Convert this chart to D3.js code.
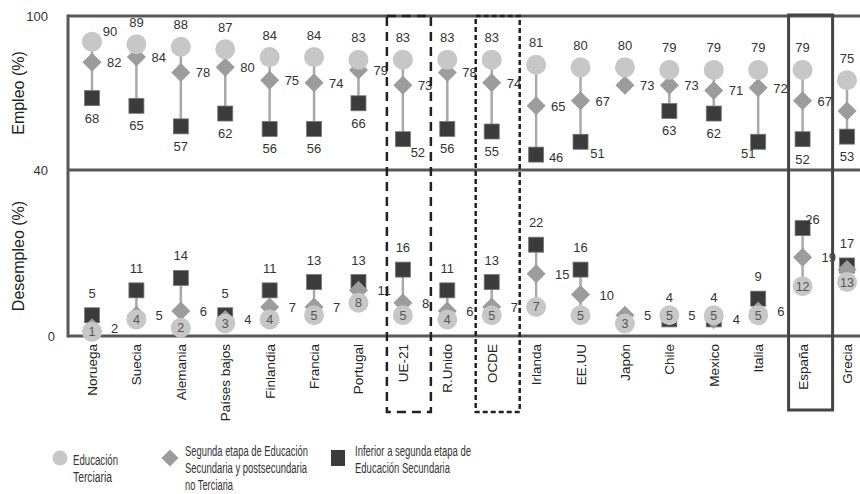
<!DOCTYPE html>
<html>
<head>
<meta charset="utf-8">
<script src="https://cdn.jsdelivr.net/npm/d3@7/dist/d3.min.js"></script>
<style>
  html, body { margin: 0; padding: 0; background: #fff; }
  svg { display: block; font-family: "Liberation Sans", Arial, sans-serif; }
</style>
</head>
<body>
<svg id="chart" width="860" height="494"></svg>
<script>
// ---------- DATA ----------
const categories = ["Noruega","Suecia","Alemania","Países bajos","Finlandia","Francia","Portugal","UE-21","R.Unido","OCDE","Irlanda","EE.UU","Japón","Chile","Mexico","Italia","España","Grecia"];

// Empleo (%)
const empTerciaria   = [90, 89, 88, 87, 84, 84, 83, 83, 83, 83, 81, 80, 80, 79, 79, 79, 79, 75];
const empSecundaria  = [82, 84, 78, 80, 75, 74, 79, 73, 78, 74, 65, 67, 73, 73, 71, 72, 67, 63];
const empInferior    = [68, 65, 57, 62, 56, 56, 66, 52, 56, 55, 46, 51, null, 63, 62, 51, 52, 53];

// Desempleo (%)
const desTerciaria   = [1, 4, 2, 3, 4, 5, 8, 5, 4, 5, 7, 5, 3, 5, 5, 5, 12, 13];
const desSecundaria  = [2, 5, 6, 4, 7, 7, 11, 8, 6, 7, 15, 10, 5, 5, 4, 6, 19, 16];
const desInferior    = [5, 11, 14, 5, 11, 13, 13, 16, 11, 13, 22, 16, null, 4, 4, 9, 26, 17];

const topTicks = [100, 40];
const bottomTicks = [0];

const legendItems = [
  { kind: "circle",  lines: ["Educación", "Terciaria"] },
  { kind: "diamond", lines: ["Segunda etapa de Educación", "Secundaria y postsecundaria", "no Terciaria"] },
  { kind: "square",  lines: ["Inferior a segunda etapa de", "Educación Secundaria"] }
];

const dashedBoxes = ["UE-21", "OCDE"];
const solidBoxes = ["España"];

// ---------- LAYOUT ----------
const svg = d3.select("#chart");
const left = 68, topY = 16, midY = 170, botY = 336;

const x = d3.scalePoint().domain(categories).range([92, 847]);
const yTop = d3.scaleLinear().domain([40, 100]).range([midY, topY]);
const yBot = d3.scaleLinear().domain([0, 40]).range([botY, midY]);

const C_CIRCLE = "#c7c7c7", C_DIAMOND = "#9c9c9c", C_SQUARE = "#3b3b3b";
const C_LINE = "#a9a9a9", C_FRAME = "#585858", C_TEXT = "#333";

// label nudges (presentation only)
const topSquareNudge = { "UE-21": [15, 13], "Irlanda": [20, 3], "EE.UU": [17, 12], "Italia": [-10, 12] };
const topCircleNudge = { "Noruega": [18, 12] };
const botSquareNudge = { "España": [10, 9] };

// ---------- FRAME ----------
const frame = svg.append("g");
frame.append("line").attr("x1", left).attr("x2", 880).attr("y1", topY).attr("y2", topY);
frame.append("line").attr("x1", left).attr("x2", 880).attr("y1", midY).attr("y2", midY);
frame.append("line").attr("x1", left).attr("x2", 880).attr("y1", botY).attr("y2", botY);
frame.append("line").attr("x1", left).attr("x2", left).attr("y1", topY - 1.5).attr("y2", botY + 1.5);
frame.selectAll("line").attr("stroke", C_FRAME).attr("stroke-width", 3);

// ---------- AXES ----------
const axT = svg.append("g").attr("transform", `translate(${left},0)`)
  .call(d3.axisLeft(yTop).tickValues(topTicks).tickSize(0).tickPadding(20).tickFormat(d3.format("d")));
const axB = svg.append("g").attr("transform", `translate(${left},0)`)
  .call(d3.axisLeft(yBot).tickValues(bottomTicks).tickSize(0).tickPadding(13).tickFormat(d3.format("d")));
[axT, axB].forEach(a => {
  a.select(".domain").remove();
  a.selectAll("text").attr("font-size", 13).attr("fill", C_TEXT)
    .attr("font-family", "'Liberation Sans', Arial, sans-serif");
});

svg.append("text").attr("transform", `translate(24,${(topY + midY) / 2}) rotate(-90)`)
  .attr("text-anchor", "middle").attr("font-size", 16).attr("fill", "#222").text("Empleo (%)");
svg.append("text").attr("transform", `translate(24,${(midY + botY) / 2 + 3}) rotate(-90)`)
  .attr("text-anchor", "middle").attr("font-size", 16).attr("fill", "#222").text("Desempleo (%)");

// ---------- CATEGORY LABELS ----------
svg.append("g").selectAll("text").data(categories).join("text")
  .attr("transform", d => `translate(${x(d) + 5},344) rotate(-90)`)
  .attr("text-anchor", "end").attr("font-size", 13.5).attr("fill", "#222")
  .text(d => d);

// ---------- MARKERS ----------
function diamondPath(s) { return `M0,${-s}L${s},0L0,${s}L${-s},0Z`; }

function drawPanel(y, ter, sec, inf, isTop) {
  const g = svg.append("g");
  const rows = categories.map((c, i) => ({ c, t: ter[i], s: sec[i], q: inf[i] }));
  // connectors
  g.selectAll("line.conn").data(rows).join("line")
    .attr("x1", d => x(d.c)).attr("x2", d => x(d.c))
    .attr("y1", d => y(d3.max([d.t, d.s, d.q].filter(v => v != null))))
    .attr("y2", d => y(d3.min([d.t, d.s, d.q].filter(v => v != null))))
    .attr("stroke", C_LINE).attr("stroke-width", 2.5);
  // squares
  const sq = 15;
  g.selectAll("rect.sq").data(rows.filter(d => d.q != null)).join("rect")
    .attr("x", d => x(d.c) - sq / 2).attr("y", d => y(d.q) - sq / 2)
    .attr("width", sq).attr("height", sq)
    .attr("fill", C_SQUARE).attr("stroke", "#777").attr("stroke-width", 0.8);
  // diamonds
  g.selectAll("path.dm").data(rows).join("path")
    .attr("d", diamondPath(9.5))
    .attr("transform", d => `translate(${x(d.c)},${y(d.s)})`)
    .attr("fill", C_DIAMOND);
  // circles
  g.selectAll("circle.ci").data(rows).join("circle")
    .attr("cx", d => x(d.c)).attr("cy", d => y(d.t)).attr("r", 10)
    .attr("fill", C_CIRCLE);

  const lab = svg.append("g").attr("font-size", 13).attr("fill", C_TEXT);
  if (isTop) {
    lab.selectAll("text.t").data(rows).join("text")
      .attr("text-anchor", "middle")
      .attr("x", d => x(d.c) + (topCircleNudge[d.c] ? topCircleNudge[d.c][0] : 0))
      .attr("y", d => y(d.t) - 22 + 4.5 + (topCircleNudge[d.c] ? topCircleNudge[d.c][1] : 0))
      .text(d => d.t);
    lab.selectAll("text.s").data(rows).join("text")
      .attr("text-anchor", "start")
      .attr("x", d => x(d.c) + 15).attr("y", d => y(d.s) + 5)
      .text(d => d.s);
    lab.selectAll("text.q").data(rows.filter(d => d.q != null)).join("text")
      .attr("text-anchor", "middle")
      .attr("x", d => x(d.c) + (topSquareNudge[d.c] ? topSquareNudge[d.c][0] : 0))
      .attr("y", d => y(d.q) + (topSquareNudge[d.c] ? topSquareNudge[d.c][1] : 20) + 4.5)
      .text(d => d.q);
  } else {
    lab.selectAll("text.t").data(rows).join("text")
      .attr("text-anchor", "middle").attr("fill", "#555").attr("font-size", 12.5)
      .attr("x", d => x(d.c)).attr("y", d => y(d.t) + 4.5)
      .text(d => d.t);
    lab.selectAll("text.s").data(rows).join("text")
      .attr("text-anchor", "start")
      .attr("x", d => x(d.c) + 19).attr("y", d => y(d.s) + 5)
      .text(d => d.s);
    lab.selectAll("text.q").data(rows.filter(d => d.q != null)).join("text")
      .attr("text-anchor", "middle")
      .attr("x", d => x(d.c) + (botSquareNudge[d.c] ? botSquareNudge[d.c][0] : 0))
      .attr("y", d => y(d.q) - (botSquareNudge[d.c] ? botSquareNudge[d.c][1] : 22) + 4.5)
      .text(d => d.q);
  }
}

drawPanel(yTop, empTerciaria, empSecundaria, empInferior, true);
drawPanel(yBot, desTerciaria, desSecundaria, desInferior, false);

// ---------- HIGHLIGHT BOXES ----------
const boxG = svg.append("g").attr("fill", "none");
dashedBoxes.forEach((c, i) => {
  boxG.append("rect")
    .attr("x", x(c) - 16).attr("y", topY).attr("width", 44).attr("height", 412 - topY)
    .attr("stroke", "#222").attr("stroke-width", 2.5)
    .attr("stroke-dasharray", i === 0 ? "9,6" : "5,3");
});
solidBoxes.forEach(c => {
  boxG.append("rect")
    .attr("x", x(c) - 14).attr("y", topY - 1).attr("width", 44).attr("height", 411 - topY)
    .attr("stroke", "#444").attr("stroke-width", 3);
});

// ---------- LEGEND ----------
const legendX = [60, 170, 338];
const legendTextX = [73, 185, 355];
const legendLineY = [[460, 477], [451, 468, 485], [451, 468]];
const legendWidths = [[45, 39], [123, 122, 48], [116, 95]];
const lg = svg.append("g");
legendItems.forEach((it, i) => {
  const cx = legendX[i], cy = 458;
  if (it.kind === "circle") lg.append("circle").attr("cx", cx).attr("cy", cy).attr("r", 7.5).attr("fill", C_CIRCLE);
  if (it.kind === "diamond") lg.append("path").attr("d", diamondPath(8.5)).attr("transform", `translate(${cx},${cy})`).attr("fill", C_DIAMOND);
  if (it.kind === "square") lg.append("rect").attr("x", cx - 7).attr("y", cy - 8).attr("width", 14).attr("height", 16).attr("fill", C_SQUARE);
  it.lines.forEach((t, j) => {
    lg.append("text").attr("x", legendTextX[i]).attr("y", legendLineY[i][j] + 5)
      .attr("font-size", 14).attr("fill", "#333")
      .attr("textLength", legendWidths[i][j]).attr("lengthAdjust", "spacingAndGlyphs")
      .text(t);
  });
});
</script>
</body>
</html>
